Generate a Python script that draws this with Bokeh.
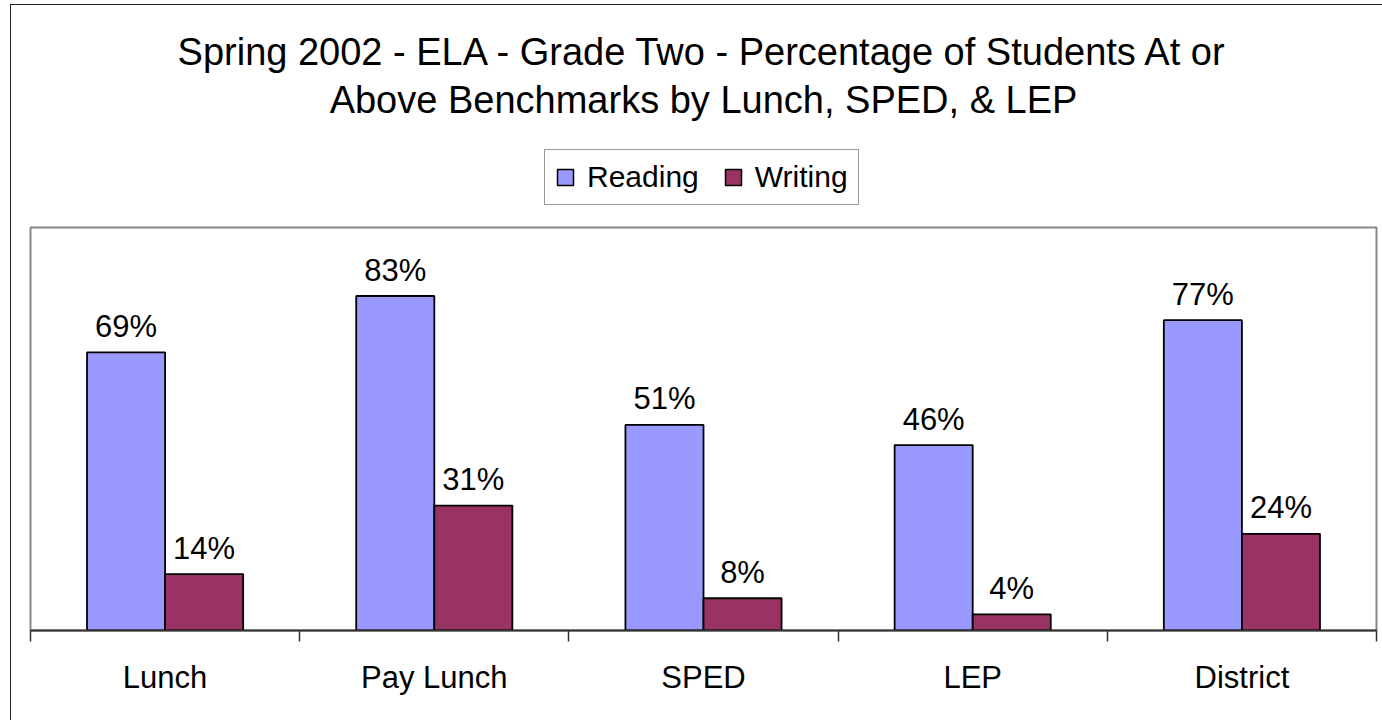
from bokeh.plotting import figure
from bokeh.layouts import column
from bokeh.models import (ColumnDataSource, Range1d, LinearAxis, FixedTicker, Legend, LegendItem, Title)
from bokeh.core.properties import value
from bokeh.embed import file_html
from bokeh.resources import INLINE

categories = ["Lunch", "Pay Lunch", "SPED", "LEP", "District"]
reading = [69, 83, 51, 46, 77]
writing = [14, 31, 8, 4, 24]
series_names = ["Reading", "Writing"]
title_lines = ["Spring 2002 - ELA - Grade Two - Percentage of Students At or",
               "Above Benchmarks by Lunch, SPED, & LEP"]

FONT = "Liberation Sans"
READ_COLOR = "#9999FF"
WRITE_COLOR = "#993366"

n = len(categories)
bw = 0.29
centers = [i + 0.5 for i in range(n)]

src = ColumnDataSource(dict(
    xr=[c - bw / 2 for c in centers],
    xw=[c + bw / 2 for c in centers],
    reading=reading,
    writing=writing,
    rlab=[f"{v}%" for v in reading],
    wlab=[f"{v}%" for v in writing],
))

W = 1371
H_HEAD = 210
H_MAIN = 505

# ---------- header: title + legend ----------
head = figure(width=W, height=H_HEAD, x_range=Range1d(0, n), y_range=Range1d(101, 102),
              output_backend="svg", toolbar_location=None,
              x_axis_location=None, y_axis_location=None,
              min_border_left=0, min_border_right=0, min_border_top=117, min_border_bottom=0)
head.outline_line_color = None
head.xgrid.visible = False
head.ygrid.visible = False
head.border_fill_color = "white"
head.background_fill_color = "white"
head.title.visible = False
for line in reversed(title_lines):
    head.add_layout(Title(text=line, align="center", text_font=FONT, text_font_size="38px",
                          text_font_style="normal", text_color="black", standoff=4), "above")

# legend-only renderers (hidden); the legend still draws their swatches
lr = head.vbar(x="xr", top="reading", width=bw, source=src,
               fill_color=READ_COLOR, line_color="black", line_width=1.5)
lw = head.vbar(x="xw", top="writing", width=bw, source=src,
               fill_color=WRITE_COLOR, line_color="black", line_width=1.5)
lr.visible = False
lw.visible = False
legend = Legend(items=[LegendItem(label=series_names[0], renderers=[lr]),
                       LegendItem(label=series_names[1], renderers=[lw])],
                orientation="horizontal", location=(514, 10),
                label_text_font=FONT, label_text_font_size="30px", label_text_color="black",
                glyph_width=20, glyph_height=20, label_standoff=12, spacing=24,
                padding=10, margin=0, border_line_color="#333333", border_line_width=1.5,
                background_fill_alpha=1, inactive_fill_alpha=0)
head.add_layout(legend, "center")

# ---------- main chart ----------
p = figure(width=W, height=H_MAIN, x_range=Range1d(0, n), y_range=Range1d(0, 100),
           output_backend="svg", toolbar_location=None,
           x_axis_location=None, y_axis_location=None,
           min_border_left=19, min_border_right=6, min_border_top=12, min_border_bottom=90)
p.outline_line_color = "#888888"
p.outline_line_width = 2
p.xgrid.visible = False
p.ygrid.visible = False
p.background_fill_color = "white"
p.border_fill_color = "white"
p.title.visible = False

tick_axis = LinearAxis(ticker=FixedTicker(ticks=list(range(n + 1))),
                       major_label_overrides={i: "" for i in range(n + 1)},
                       axis_line_color="#333333", axis_line_width=2,
                       major_tick_line_color="#333333", major_tick_line_width=1.5,
                       major_tick_in=0, major_tick_out=11, minor_tick_line_color=None,
                       major_label_text_font_size="8px", major_label_standoff=0)
p.add_layout(tick_axis, "below")
cat_axis = LinearAxis(ticker=FixedTicker(ticks=centers),
                      major_label_overrides={c: lab for c, lab in zip(centers, categories)},
                      axis_line_color=None, major_tick_line_color=None,
                      minor_tick_line_color=None, major_label_text_font=FONT,
                      major_label_text_font_size="31px", major_label_text_color="black",
                      major_label_standoff=12)
p.add_layout(cat_axis, "below")

p.vbar(x="xr", top="reading", width=bw, source=src,
       fill_color=READ_COLOR, line_color="black", line_width=1.8)
p.vbar(x="xw", top="writing", width=bw, source=src,
       fill_color=WRITE_COLOR, line_color="black", line_width=1.8)

for xcol, col, lab in (("xr", "reading", "rlab"), ("xw", "writing", "wlab")):
    p.text(x=xcol, y=col, text=lab, source=src,
           text_font=value(FONT), text_font_size="31px", text_color="black",
           text_align="center", text_baseline="alphabetic", y_offset=-26)

layout = column(head, p, spacing=0)
layout.styles = {"margin-left": "10px", "margin-top": "4px",
                 "border-left": "1px solid #222222", "border-top": "1px solid #222222"}

open("out.html", "w").write(file_html(layout, INLINE))
